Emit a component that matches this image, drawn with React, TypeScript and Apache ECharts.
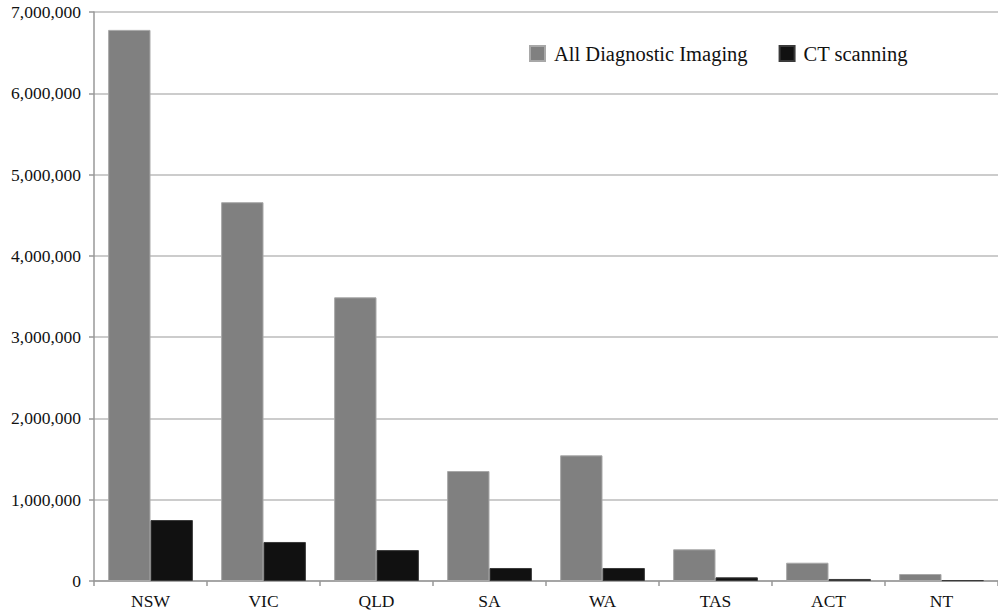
import React, { useEffect, useRef } from "react";
import * as echarts from "echarts";

const states = ["NSW", "VIC", "QLD", "SA", "WA", "TAS", "ACT", "NT"];
const allDiagnosticImaging = [6780000, 4660000, 3490000, 1353000, 1546000, 390000, 225000, 86000];
const ctScanning = [750000, 480000, 380000, 160000, 160000, 45000, 25000, 10000];
const seriesNames = ["All Diagnostic Imaging", "CT scanning"];

const FONT = '"Liberation Serif", "Times New Roman", serif';

export default function App() {
  const ref = useRef<HTMLDivElement>(null);

  useEffect(() => {
    if (!ref.current) return;
    const chart = echarts.init(ref.current, undefined, { renderer: "svg" });
    chart.setOption({
      animation: false,
      backgroundColor: "#ffffff",
      grid: { left: 94, right: -4, top: 12, bottom: 34 },
      legend: {
        left: 524,
        top: 38,
        itemWidth: 15,
        itemHeight: 15,
        itemGap: 31,
        icon: "rect",
        textStyle: {
          fontFamily: FONT,
          fontSize: 20.5,
          color: "#111",
          padding: [0, 0, 0, 4],
        },
        data: seriesNames,
      },
      xAxis: {
        type: "category",
        data: states,
        axisLine: { lineStyle: { color: "#999", width: 1.5 } },
        axisTick: { show: true, length: 5, lineStyle: { color: "#999", width: 1.5 } },
        axisLabel: { fontFamily: FONT, fontSize: 17.5, color: "#111", margin: 11 },
      },
      yAxis: {
        type: "value",
        min: 0,
        max: 7000000,
        interval: 1000000,
        axisLine: { show: true, lineStyle: { color: "#999", width: 1.5 } },
        axisTick: { show: true, length: 5, lineStyle: { color: "#999", width: 1.5 } },
        splitLine: { lineStyle: { color: "#bbb", width: 1.5 } },
        axisLabel: {
          fontFamily: FONT,
          fontSize: 17.5,
          color: "#111",
          margin: 13,
          formatter: (v: number) => v.toLocaleString("en-US"),
        },
      },
      series: [
        {
          name: seriesNames[0],
          type: "bar",
          data: allDiagnosticImaging,
          barGap: "0%",
          barCategoryGap: "25%",
          itemStyle: { color: "#808080", borderColor: "#a8a8a8", borderWidth: 1 },
        },
        {
          name: seriesNames[1],
          type: "bar",
          data: ctScanning,
          barGap: "0%",
          barCategoryGap: "25%",
          itemStyle: { color: "#111111", borderColor: "#3a3a3a", borderWidth: 1 },
        },
      ],
    });
    return () => chart.dispose();
  }, []);

  return (
    <div
      ref={ref}
      style={{ position: "fixed", left: 0, top: 0, width: 998, height: 615, background: "#fff" }}
    />
  );
}
